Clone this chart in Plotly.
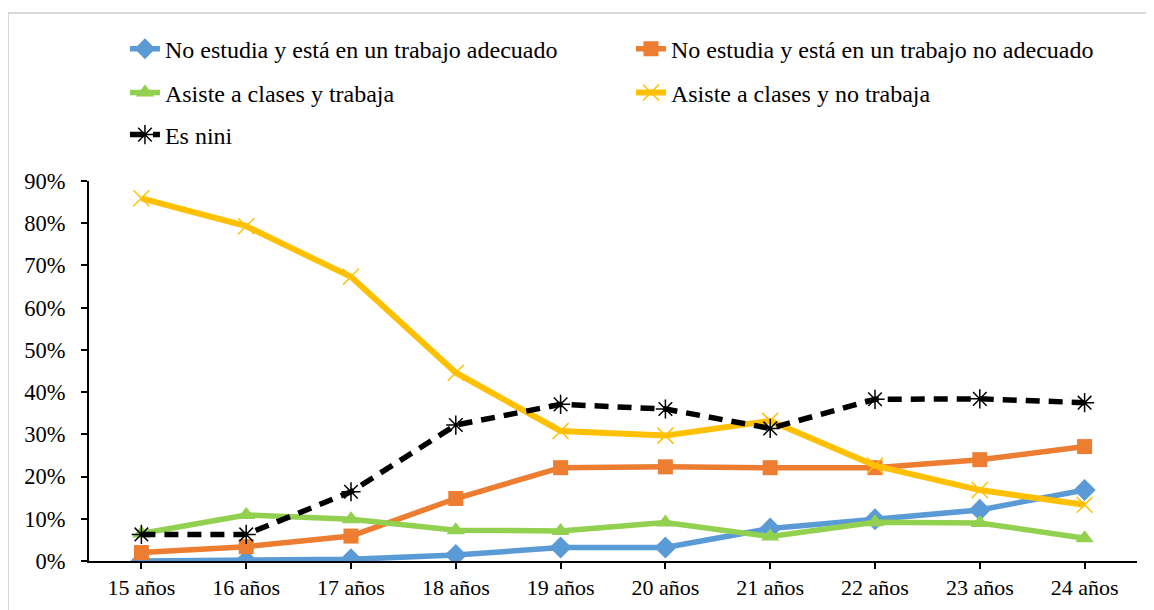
import plotly.graph_objects as go

categories = ["15 años", "16 años", "17 años", "18 años", "19 años",
              "20 años", "21 años", "22 años", "23 años", "24 años"]

adecuado = [0.000, 0.001, 0.004, 0.014, 0.032, 0.032, 0.077, 0.099, 0.121, 0.168]
no_adecuado = [0.020, 0.034, 0.059, 0.148, 0.221, 0.223, 0.221, 0.221, 0.240, 0.271]
clases_trabaja = [0.065, 0.109, 0.099, 0.073, 0.071, 0.091, 0.058, 0.092, 0.090, 0.054]
clases_no_trabaja = [0.859, 0.793, 0.673, 0.446, 0.308, 0.297, 0.332, 0.226, 0.168, 0.133]
nini = [0.063, 0.063, 0.164, 0.322, 0.371, 0.360, 0.314, 0.383, 0.384, 0.375]

names = ["No estudia y está en un trabajo adecuado",
         "No estudia y está en un trabajo no adecuado",
         "Asiste a clases y trabaja",
         "Asiste a clases y no trabaja",
         "Es nini"]

FONT = "Liberation Serif"

fig = go.Figure()

fig.add_trace(go.Scatter(
    x=categories, y=adecuado, name=names[0], mode="lines+markers",
    line=dict(color="#5B9BD5", width=5.5),
    marker=dict(symbol="diamond", size=17, color="#5B9BD5"),
    legend="legend"))
fig.add_trace(go.Scatter(
    x=categories, y=no_adecuado, name=names[1], mode="lines+markers",
    line=dict(color="#ED7D31", width=5.5),
    marker=dict(symbol="square", size=15, color="#ED7D31"),
    legend="legend"))
fig.add_trace(go.Scatter(
    x=categories, y=clases_trabaja, name=names[2], mode="lines+markers",
    line=dict(color="#92D050", width=5.5),
    marker=dict(symbol="triangle-up", size=16, color="#92D050"),
    legend="legend2"))
fig.add_trace(go.Scatter(
    x=categories, y=clases_no_trabaja, name=names[3], mode="lines+markers",
    line=dict(color="#FFC000", width=6),
    marker=dict(symbol="x-thin-open", size=16,
                line=dict(color="#FFC000", width=1.5)),
    legend="legend2"))
fig.add_trace(go.Scatter(
    x=categories, y=nini, name=names[4], mode="lines+markers",
    line=dict(color="#000000", width=5.5, dash="14px,9px"),
    marker=dict(symbol="asterisk-open", size=16,
                line=dict(color="#000000", width=1.5)),
    legend="legend3"))

leg_common = dict(orientation="h", xanchor="left", yanchor="middle",
                  font=dict(family=FONT, size=24, color="#000000"),
                  entrywidth=461, entrywidthmode="pixels",
                  bgcolor="rgba(0,0,0,0)", traceorder="normal")

fig.update_layout(
    width=1154, height=610,
    margin=dict(l=81, r=25, t=173, b=57, autoexpand=False),
    paper_bgcolor="white", plot_bgcolor="white",
    font=dict(family=FONT, size=20, color="#000000"),
    legend=dict(x=0.0343, y=1.347, **leg_common),
    legend2=dict(x=0.0343, y=1.2316, **leg_common),
    legend3=dict(x=0.0343, y=1.121, **leg_common),
    xaxis=dict(
        type="category", range=[-0.5, 9.5],
        showline=True, linecolor="#000000", linewidth=2,
        ticks="outside", ticklen=6, tickwidth=1.5, tickcolor="#000000",
        showgrid=False, zeroline=False,
        tickfont=dict(family=FONT, size=22, color="#000000"),
    ),
    yaxis=dict(
        range=[0, 0.9], tickvals=[0, 0.1, 0.2, 0.3, 0.4, 0.5, 0.6, 0.7, 0.8, 0.9],
        tickformat=".0%",
        showline=True, linecolor="#000000", linewidth=2,
        ticks="outside", ticklen=6, tickwidth=1.5, tickcolor="#000000",
        showgrid=False, zeroline=False,
        tickfont=dict(family=FONT, size=22.5, color="#000000"),
        ticklabelstandoff=11,
    ),
    shapes=[dict(type="rect", xref="paper", yref="paper",
                 x0=-0.0773, x1=1.03, y0=-0.2, y1=1.442,
                 line=dict(color="#D9D9D9", width=2), layer="below")],
    showlegend=True,
)

fig.write_html("out.html")
